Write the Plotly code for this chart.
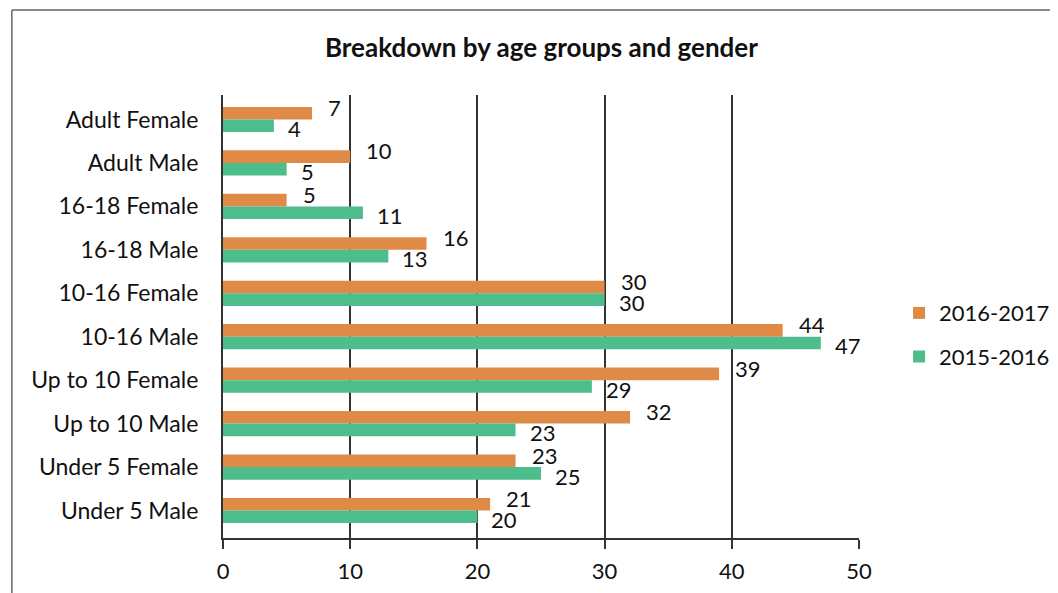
import plotly.graph_objects as go

categories = ["Adult Female", "Adult Male", "16-18 Female", "16-18 Male", "10-16 Female",
              "10-16 Male", "Up to 10 Female", "Up to 10 Male", "Under 5 Female", "Under 5 Male"]
series_2016_2017 = [7, 10, 5, 16, 30, 44, 39, 32, 23, 21]
series_2015_2016 = [4, 5, 11, 13, 30, 47, 29, 23, 25, 20]
x_ticks = [0, 10, 20, 30, 40, 50]

FONT = "Lato, 'Open Sans', sans-serif"
ORANGE = "#DF8B47"
GREEN = "#4DBE8B"

fig = go.Figure()
fig.add_trace(go.Bar(
    y=categories, x=series_2016_2017, orientation="h", name="2016-2017",
    marker=dict(color=ORANGE, line=dict(width=0)), legendgroup="a",
))
fig.add_trace(go.Bar(
    y=categories, x=series_2015_2016, orientation="h", name="2015-2016",
    marker=dict(color=GREEN, line=dict(width=0)), legendgroup="b",
))

# data labels (orange slightly above, green slightly below their bars)
annotations = []
for cat, v in zip(categories, series_2016_2017):
    annotations.append(dict(x=v, y=cat, text=str(v), showarrow=False, xanchor="left",
                            yanchor="middle", xshift=14, yshift=12,
                            font=dict(size=22, color="#111", family=FONT)))
for cat, v in zip(categories, series_2015_2016):
    annotations.append(dict(x=v, y=cat, text=str(v), showarrow=False, xanchor="left",
                            yanchor="middle", xshift=12, yshift=-9,
                            font=dict(size=22, color="#111", family=FONT)))

fig.update_layout(
    width=1050, height=585,
    margin=dict(l=215, r=199, t=87, b=55, autoexpand=False),
    paper_bgcolor="white", plot_bgcolor="white",
    font=dict(family=FONT, size=22, color="#111"),
    title=dict(text="<b>Breakdown by age groups and gender</b>", x=0.508, xanchor="center",
               y=0.932, yanchor="middle", font=dict(size=26, family=FONT, color="#111")),
    barmode="group", bargap=0.42, bargroupgap=0,
    showlegend=True,
    legend=dict(x=1.063, y=0.458, xanchor="left", yanchor="middle", traceorder="grouped",
                tracegroupgap=12, font=dict(size=22), bgcolor="rgba(0,0,0,0)"),
    annotations=annotations,
)
fig.update_xaxes(range=[0, 50], tickvals=x_ticks, showgrid=True, gridcolor="#333", gridwidth=1.5,
                 zeroline=False, showline=True, linecolor="#333", linewidth=2,
                 ticks="outside", ticklen=9, tickcolor="#333", tickwidth=1.5,
                 ticklabelstandoff=4, tickfont=dict(size=22), automargin=False)
fig.update_yaxes(categoryorder="array", categoryarray=categories, autorange="reversed",
                 showgrid=False, showline=True, linecolor="#333", linewidth=2,
                 ticks="", ticklabelstandoff=18, tickfont=dict(size=23), automargin=False)

# outer chart border
fig.add_shape(type="line", xref="paper", yref="paper", x0=-0.332, x1=-0.332, y0=-0.2, y1=1.192,
              line=dict(color="#666", width=1.5))
fig.add_shape(type="line", xref="paper", yref="paper", x0=-0.332, x1=1.4, y0=1.192, y1=1.192,
              line=dict(color="#666", width=1.5))

fig.write_html("out.html")
